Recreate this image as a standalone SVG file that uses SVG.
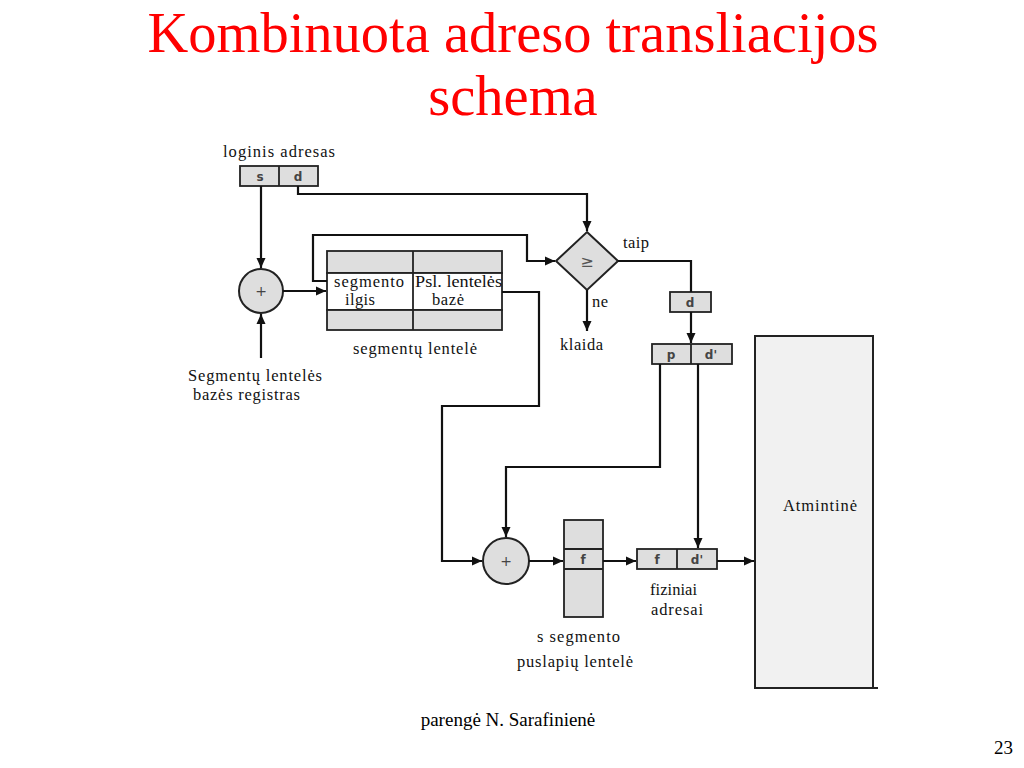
<svg xmlns="http://www.w3.org/2000/svg" width="1024" height="768" viewBox="0 0 1024 768">
<defs>
<marker id="ah" viewBox="0 0 10 10" refX="10" refY="5" markerWidth="10" markerHeight="10" markerUnits="userSpaceOnUse" orient="auto">
<path d="M0,0.5 L10,5 L0,9.5 Z" fill="#111"/>
</marker>
<style>
.title{font-family:"Liberation Serif","Times New Roman",serif;font-size:56.5px;fill:#ff0000}
.foot{font-family:"Liberation Serif","Times New Roman",serif;font-size:19px;fill:#000}
.lbl{font-family:"Liberation Serif","Times New Roman",serif;font-size:16.5px;fill:#111}
.cell{font-family:"DejaVu Sans","Liberation Sans",sans-serif;font-size:12px;font-weight:bold;fill:#444;text-anchor:middle}
.box{fill:#dedede;stroke:#222;stroke-width:1.8}
.wbox{fill:#ffffff;stroke:#222;stroke-width:1.8}
.ln{fill:none;stroke:#111;stroke-width:2.2}
.arr{fill:none;stroke:#111;stroke-width:2.2;marker-end:url(#ah)}
</style>
</defs>
<rect width="1024" height="768" fill="#ffffff"/>
<text class="title" x="513" y="52" text-anchor="middle">Kombinuota adreso transliacijos</text>
<text class="title" x="513" y="115" text-anchor="middle">schema</text>

<g id="logical-address">
<text class="lbl" x="223" y="157" textLength="112" lengthAdjust="spacing">loginis adresas</text>
<rect class="box" x="240" y="166" width="78" height="20"/>
<line x1="279" y1="166" x2="279" y2="186" stroke="#222" stroke-width="1.8"/>
<text class="cell" x="260" y="181">s</text>
<text class="cell" x="298" y="181">d</text>
</g>

<g id="adder1">
<circle cx="261" cy="291" r="22" fill="#dedede" stroke="#222" stroke-width="2"/>
<text class="cell" x="261" y="296" style="font-weight:normal;font-size:14px">+</text>
</g>

<g id="base-register">
<text class="lbl" x="188" y="381" textLength="134" lengthAdjust="spacing">Segmentų lentelės</text>
<text class="lbl" x="193" y="400" textLength="107" lengthAdjust="spacing">bazės registras</text>
</g>

<g id="segment-table">
<rect class="box" x="327" y="251" width="175" height="22"/>
<rect class="wbox" x="327" y="273" width="175" height="37"/>
<rect class="box" x="327" y="310" width="175" height="20"/>
<line x1="413" y1="251" x2="413" y2="330" stroke="#222" stroke-width="1.8"/>
<text class="lbl" x="334" y="287" textLength="70" lengthAdjust="spacing">segmento</text>
<text class="lbl" x="345" y="305" textLength="30" lengthAdjust="spacing">ilgis</text>
<text class="lbl" x="415" y="287" textLength="87" lengthAdjust="spacingAndGlyphs">Psl. lentelės</text>
<text class="lbl" x="432" y="305" textLength="32" lengthAdjust="spacing">bazė</text>
<text class="lbl" x="353" y="354" textLength="124" lengthAdjust="spacing">segmentų lentelė</text>
</g>

<g id="compare">
<polygon points="587,232 618,261 587,290 556,261" fill="#dedede" stroke="#222" stroke-width="2"/>
<text x="587" y="267" text-anchor="middle" style="font-family:'DejaVu Sans',sans-serif;font-size:16px;fill:#555">≥</text>
<text class="lbl" x="623" y="248" textLength="26" lengthAdjust="spacing">taip</text>
<text class="lbl" x="592" y="307" textLength="16" lengthAdjust="spacing">ne</text>
<text class="lbl" x="560" y="350" textLength="43" lengthAdjust="spacing">klaida</text>
</g>

<g id="offset-d">
<rect class="box" x="670" y="292" width="41" height="20"/>
<text class="cell" x="690" y="307">d</text>
</g>

<g id="page-offset">
<rect class="box" x="652" y="344" width="80" height="20"/>
<line x1="691" y1="344" x2="691" y2="364" stroke="#222" stroke-width="1.8"/>
<text class="cell" x="671" y="359">p</text>
<text class="cell" x="711" y="359">d'</text>
</g>

<g id="adder2">
<circle cx="506" cy="561" r="23" fill="#dedede" stroke="#222" stroke-width="2"/>
<text class="cell" x="506" y="566" style="font-weight:normal;font-size:14px">+</text>
</g>

<g id="page-table">
<rect class="box" x="564" y="520" width="39" height="97"/>
<line x1="564" y1="549" x2="603" y2="549" stroke="#222" stroke-width="1.8"/>
<line x1="564" y1="569" x2="603" y2="569" stroke="#222" stroke-width="1.8"/>
<text class="cell" x="583" y="564">f</text>
<text class="lbl" x="537" y="642" textLength="83" lengthAdjust="spacing">s segmento</text>
<text class="lbl" x="517" y="667" textLength="116" lengthAdjust="spacing">puslapių lentelė</text>
</g>

<g id="physical-address">
<rect class="box" x="637" y="549" width="80" height="20"/>
<line x1="677" y1="549" x2="677" y2="569" stroke="#222" stroke-width="1.8"/>
<text class="cell" x="657" y="564">f</text>
<text class="cell" x="697" y="564">d'</text>
<text class="lbl" x="650" y="595" textLength="47" lengthAdjust="spacing">fiziniai</text>
<text class="lbl" x="651" y="615" textLength="52" lengthAdjust="spacing">adresai</text>
</g>

<g id="memory">
<rect x="755" y="336" width="118" height="352" fill="#f1f1f1" stroke="#222" stroke-width="2"/>
<line x1="755" y1="688" x2="878" y2="688" stroke="#222" stroke-width="2"/>
<text class="lbl" x="783" y="511" textLength="74" lengthAdjust="spacing">Atmintinė</text>
</g>

<g id="connectors">
<path class="arr" d="M261,186 V268"/>
<path class="arr" d="M298,186 V194 H587 V231"/>
<path class="arr" d="M283,291 H326"/>
<path class="arr" d="M261,358 V314"/>
<path class="arr" d="M327,281 H313 V235 H527 V261 H555"/>
<path class="ln" d="M618,261 H691 V292"/>
<path class="arr" d="M691,312 V343"/>
<path class="arr" d="M587,290 V331"/>
<path class="arr" d="M502,292 H539 V406 H442 V561 H482"/>
<path class="arr" d="M660,364 V467 H506 V537"/>
<path class="arr" d="M698,364 V548"/>
<path class="arr" d="M529,561 H563"/>
<path class="arr" d="M603,561 H636"/>
<path class="arr" d="M717,561 H754"/>
</g>

<text class="foot" x="508" y="726" text-anchor="middle">parengė N. Sarafinienė</text>
<text class="foot" x="1013" y="754" text-anchor="end">23</text>
</svg>
